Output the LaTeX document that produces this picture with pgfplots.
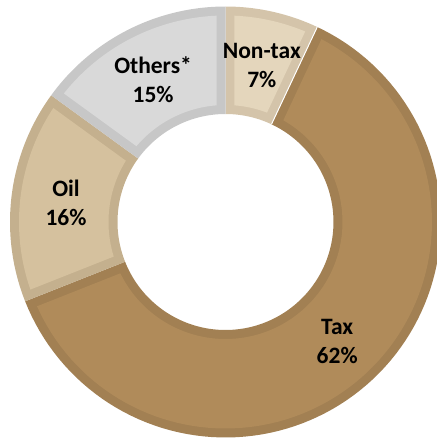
\documentclass[border=0pt]{standalone}
\usepackage{pgfplots}
\pgfplotsset{compat=1.18}
\usepackage{pgfplotstable}
\usepackage{fontspec}
\setmainfont{Carlito}

\definecolor{fNT}{RGB}{228,214,188}
\definecolor{bNT}{RGB}{212,196,170}
\definecolor{fTX}{RGB}{176,139,90}
\definecolor{bTX}{RGB}{162,128,83}
\definecolor{fOL}{RGB}{213,193,158}
\definecolor{bOL}{RGB}{196,176,142}
\definecolor{fOT}{RGB}{217,217,217}
\definecolor{bOT}{RGB}{199,199,199}

\pgfplotstableread{
label value
Non-tax 7
Tax 62
Oil 16
Others* 15
}\datatable

% geometry (bp)
\def\Rout{215.5}
\def\Rin{108}
\def\bw{9}
\pgfmathsetmacro\Roi{\Rout-\bw}
\pgfmathsetmacro\Rii{\Rin+\bw}
\pgfmathsetmacro\dO{asin(\bw/\Roi)}
\pgfmathsetmacro\dI{asin(\bw/\Rii)}
\pgfmathsetmacro\Rmid{(\Rout+\Rin)/2}

% cumulative angles from the data
\def\cum{0}
\pgfplotsforeachungrouped \i in {0,1,2,3}{%
  \pgfplotstablegetelem{\i}{value}\of\datatable
  \let\v\pgfplotsretval
  \pgfmathsetmacro\s{90-3.6*\cum}%
  \pgfmathsetmacro\e{90-3.6*(\cum+\v)}%
  \pgfmathsetmacro\m{(\s+\e)/2}%
  \expandafter\xdef\csname segS\i\endcsname{\s}%
  \expandafter\xdef\csname segE\i\endcsname{\e}%
  \expandafter\xdef\csname segM\i\endcsname{\m}%
  \pgfmathtruncatemacro\vv{\v}%
  \expandafter\xdef\csname segV\i\endcsname{\vv}%
  \pgfmathsetmacro\cum{\cum+\v}%
}

% ring sector: #1 Ro, #2 Ri, #3 a_o, #4 b_o, #5 a_i, #6 b_i, #7 options
\newcommand\ring[7]{%
\addplot[#7, draw=none, domain=0:3, samples=301, variable=\t]
 ({ (\t<1.005) ? (#1*cos(#3+(#4-#3)*\t)) : ((\t<2.005) ? ((2-\t)*#1*cos(#4)+(\t-1)*#2*cos(#6)) : (#2*cos(#6+(#5-#6)*(\t-2)))) },
  { (\t<1.005) ? (#1*sin(#3+(#4-#3)*\t)) : ((\t<2.005) ? ((2-\t)*#1*sin(#4)+(\t-1)*#2*sin(#6)) : (#2*sin(#6+(#5-#6)*(\t-2)))) });
}

\newcommand\segment[3]{%
  \edef\sa{\csname segS#1\endcsname}\edef\sb{\csname segE#1\endcsname}%
  \pgfmathsetmacro\aoo{\sa-\dO}\pgfmathsetmacro\boo{\sb+\dO}%
  \pgfmathsetmacro\aii{\sa-\dI}\pgfmathsetmacro\bii{\sb+\dI}%
  \edef\doring{\noexpand\ring{\Rout}{\Rin}{\sa}{\sb}{\sa}{\sb}{fill=#3}}\doring
  \edef\doring{\noexpand\ring{\Roi}{\Rii}{\aoo}{\boo}{\aii}{\bii}{fill=#2}}\doring
}

\begin{document}
\begin{tikzpicture}
\begin{axis}[x=1bp, y=1bp, xmin=-225.5, xmax=211.5, ymin=-216, ymax=222,
  hide axis, clip=true]
\segment{0}{fNT}{bNT}
\segment{1}{fTX}{bTX}
\segment{2}{fOL}{bOL}
\segment{3}{fOT}{bOT}
\edef\bnd{\csname segE0\endcsname}
\addplot[white, line width=1bp, domain=\Rin:\Rout, samples=2, variable=\r]
  ({\r*cos(\bnd)},{\r*sin(\bnd)});
\end{axis}
\begin{scope}[font=\fontsize{23.5bp}{29bp}\selectfont\bfseries]
\foreach \i/\lab in {0/Non-tax,1/Tax,2/Oil,3/Others*}{
  \pgfmathsetmacro\mx{225.5+\Rmid*cos(\csname segM\i\endcsname)+1}
  \pgfmathsetmacro\my{216+\Rmid*sin(\csname segM\i\endcsname)-1.5}
  \node[align=center, inner sep=0pt] at (\mx bp,\my bp) {\lab\\\csname segV\i\endcsname\%};
}
\end{scope}
\pgfresetboundingbox
\useasboundingbox (0,0) rectangle (437bp,438bp);
\end{tikzpicture}
\end{document}
